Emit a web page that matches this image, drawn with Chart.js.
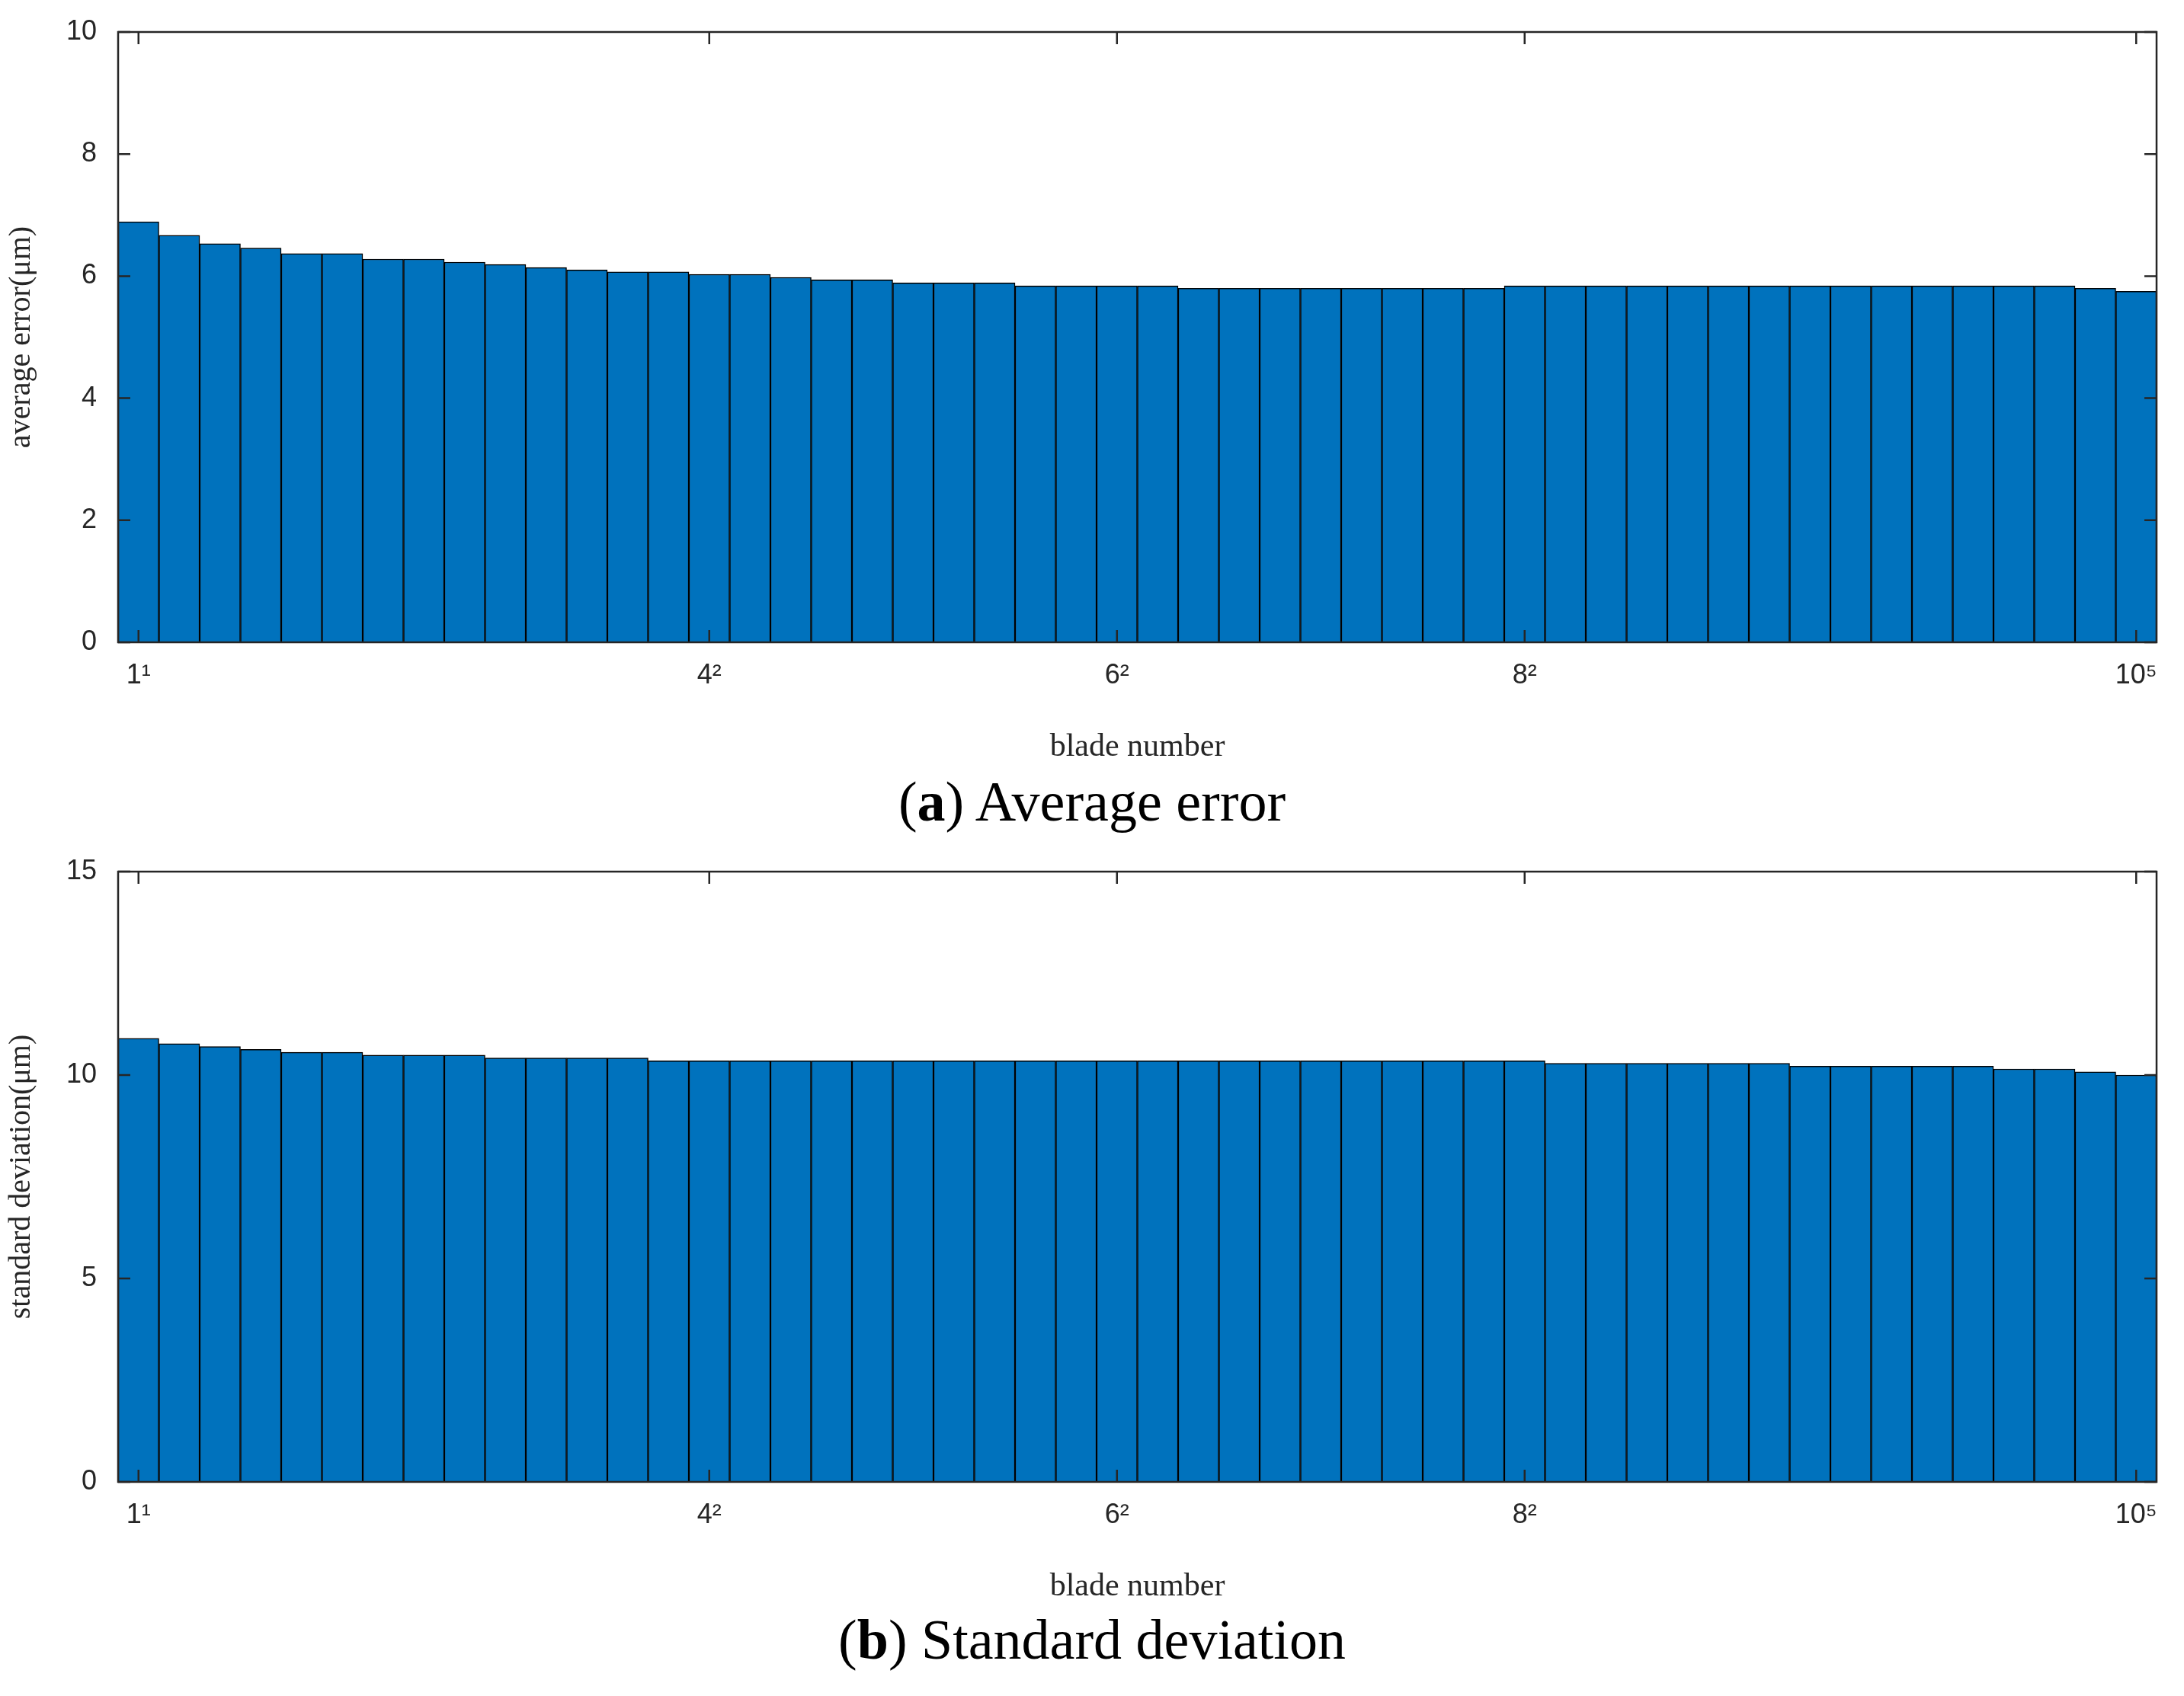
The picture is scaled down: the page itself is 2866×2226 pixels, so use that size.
<!DOCTYPE html>
<html><head><meta charset="utf-8">
<script src="https://cdn.jsdelivr.net/npm/chart.js@4"></script>
<style>
body{margin:0;background:#fff;width:2866px;height:2226px;position:relative;overflow:hidden}
.c{position:absolute;left:0;width:2866px}
.cap{position:absolute;left:0;width:2866px;text-align:center;font-family:"Liberation Serif",serif;font-size:74px;color:#000}
</style></head><body>
<div class="c" style="top:0;height:1010px"><canvas id="a"></canvas></div>
<div class="c" style="top:1102px;height:1010px"><canvas id="b"></canvas></div>
<div class="cap" style="top:1010px">(<b>a</b>) Average error</div>
<div class="cap" style="top:2110px">(<b>b</b>) Standard deviation</div>
<script>
const bladeIndex = Array.from({length:50},(_,i)=>i+1);
const tickLabels = {1:'1\u00B9',15:'4\u00B2',25:'6\u00B2',35:'8\u00B2',50:'10\u2075'};
const avgError = [6.89,6.67,6.53,6.46,6.37,6.37,6.28,6.28,6.23,6.19,6.14,6.10,6.07,6.07,6.03,6.03,5.98,5.94,5.94,5.89,5.89,5.89,5.84,5.84,5.84,5.84,5.80,5.80,5.80,5.80,5.80,5.80,5.80,5.80,5.84,5.84,5.84,5.84,5.84,5.84,5.84,5.84,5.84,5.84,5.84,5.84,5.84,5.84,5.80,5.75];
const stdDev = [10.90,10.77,10.70,10.63,10.56,10.56,10.49,10.49,10.49,10.42,10.42,10.42,10.42,10.35,10.35,10.35,10.35,10.35,10.35,10.35,10.35,10.35,10.35,10.35,10.35,10.35,10.35,10.35,10.35,10.35,10.35,10.35,10.35,10.35,10.35,10.29,10.29,10.29,10.29,10.29,10.29,10.22,10.22,10.22,10.22,10.22,10.15,10.15,10.08,10.00];

const frame = {id:'frame',afterDatasetsDraw(ch){
  const {ctx,chartArea:a,scales} = ch;
  ctx.save();ctx.strokeStyle='#262626';ctx.lineWidth=2.5;
  ctx.strokeRect(a.left,a.top,a.right-a.left,a.bottom-a.top);
  const L=16;ctx.beginPath();
  scales.y.ticks.forEach(t=>{const y=scales.y.getPixelForValue(t.value);
    ctx.moveTo(a.left,y);ctx.lineTo(a.left+L,y);ctx.moveTo(a.right,y);ctx.lineTo(a.right-L,y);});
  Object.keys(tickLabels).forEach(k=>{const x=scales.x.getPixelForValue(+k-1);
    ctx.moveTo(x,a.bottom);ctx.lineTo(x,a.bottom-L);ctx.moveTo(x,a.top);ctx.lineTo(x,a.top+L);});
  ctx.stroke();ctx.restore();}};

function make(id,data,max,step,ytitle){
  new Chart(document.getElementById(id),{type:'bar',
    data:{labels:bladeIndex,datasets:[{data,backgroundColor:'#0072BD',borderColor:'#000',borderWidth:1.5,barPercentage:1,categoryPercentage:1}]},
    options:{responsive:true,maintainAspectRatio:false,animation:false,
      layout:{padding:{top:42,right:36,left:0,bottom:0}},
      plugins:{legend:{display:false},tooltip:{enabled:false}},
      scales:{
        x:{grid:{display:false},border:{display:false},
          ticks:{autoSkip:false,maxRotation:0,color:'#262626',font:{family:'Liberation Sans',size:36},padding:14,
            callback:(v,i)=>tickLabels[i+1]||''},
          title:{display:true,text:'blade number',color:'#262626',font:{family:'Liberation Serif',size:42},padding:{top:10}},
          afterFit(s){s.height=167;}},
        y:{min:0,max,grid:{display:false},border:{display:false},
          ticks:{stepSize:step,color:'#262626',font:{family:'Liberation Sans',size:36},padding:20},
          title:{display:true,text:ytitle,color:'#262626',font:{family:'Liberation Serif',size:40},padding:{bottom:8}},
          afterFit(s){s.width=155;}}}},
    plugins:[frame]});
}
make('a',avgError,10,2,'average error(\u03BCm)');
make('b',stdDev,15,5,'standard deviation(\u03BCm)');
</script></body></html>
